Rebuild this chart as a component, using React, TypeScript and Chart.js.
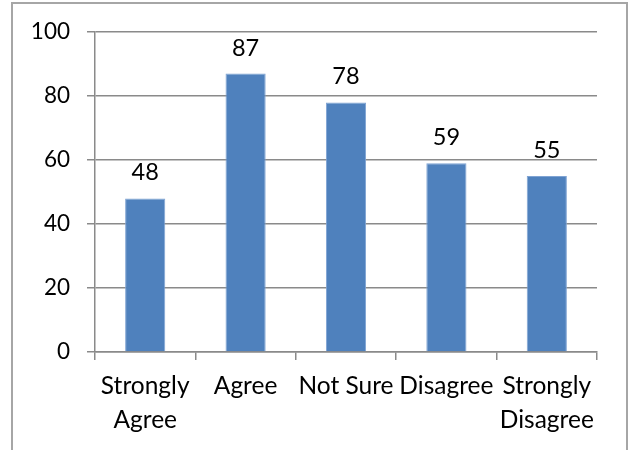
import React, { useEffect, useRef } from "react";
import { Chart, registerables } from "chart.js";

Chart.register(...registerables);

const categories: (string | string[])[] = [
  ["Strongly", "Agree"],
  "Agree",
  "Not Sure",
  "Disagree",
  ["Strongly", "Disagree"],
];
const values: number[] = [48, 87, 78, 59, 55];
const yTicks: number[] = [0, 20, 40, 60, 80, 100];

const FONT = "Lato, 'Open Sans', sans-serif";
const GRID = "#8a8a8a";
const BAR = "#4f81bd";

const dataLabelPlugin = {
  id: "dataLabels",
  afterDatasetsDraw(chart: any) {
    const ctx = chart.ctx;
    const meta = chart.getDatasetMeta(0);
    ctx.save();
    ctx.font = `23.5px ${FONT}`;
    ctx.fillStyle = "#000";
    ctx.textAlign = "center";
    ctx.textBaseline = "alphabetic";
    meta.data.forEach((el: any, i: number) => {
      ctx.fillText(String(values[i]), el.x, el.y - 18);
    });
    ctx.restore();
  },
};

export default function App() {
  const ref = useRef<HTMLCanvasElement>(null);
  useEffect(() => {
    if (!ref.current) return;
    const chart = new Chart(ref.current, {
      type: "bar",
      data: {
        labels: categories,
        datasets: [
          {
            data: values,
            backgroundColor: BAR,
            borderColor: "#7fa3d3",
            borderWidth: 1,
            barPercentage: 0.8,
            categoryPercentage: 0.5,
          },
        ],
      },
      options: {
        responsive: false,
        animation: false,
        layout: { padding: { left: 0, top: 32, right: 32, bottom: 0 } },
        plugins: {
          legend: { display: false },
          tooltip: { enabled: false },
        },
        scales: {
          x: {
            grid: {
              display: true,
              drawOnChartArea: false,
              drawTicks: true,
              tickLength: 8,
              color: GRID,
              lineWidth: 1.5,
            },
            border: { display: true, color: GRID, width: 1.5 },
            ticks: {
              color: "#000",
              font: { family: FONT, size: 24.5, lineHeight: 1.39 },
              maxRotation: 0,
              minRotation: 0,
              autoSkip: false,
              padding: 9,
            },
            afterFit(scale: any) {
              scale.height = 98;
            },
          },
          y: {
            min: 0,
            max: 100,
            afterBuildTicks(scale: any) {
              scale.ticks = yTicks.map((v) => ({ value: v }));
            },
            grid: {
              color: GRID,
              lineWidth: 1.5,
              drawTicks: true,
              tickLength: 8,
            },
            border: { display: true, color: GRID, width: 1.5 },
            ticks: {
              color: "#000",
              font: { family: FONT, size: 22.5 },
              padding: 17,
            },
            afterFit(scale: any) {
              scale.width = 95;
            },
          },
        },
      },
      plugins: [dataLabelPlugin],
    });
    return () => chart.destroy();
  }, []);

  return (
    <div style={{ position: "fixed", left: 0, top: 0, width: 629, height: 450, background: "#fff", overflow: "hidden" }}>
      <canvas ref={ref} width={629} height={450} style={{ position: "absolute", left: 0, top: 0 }} />
      <div
        style={{
          position: "absolute",
          left: 11,
          top: 2,
          width: 613,
          height: 470,
          borderLeft: "2px solid #a6a6a6",
          borderTop: "2px solid #a6a6a6",
          borderRight: "2px solid #a6a6a6",
          pointerEvents: "none",
        }}
      />
    </div>
  );
}
